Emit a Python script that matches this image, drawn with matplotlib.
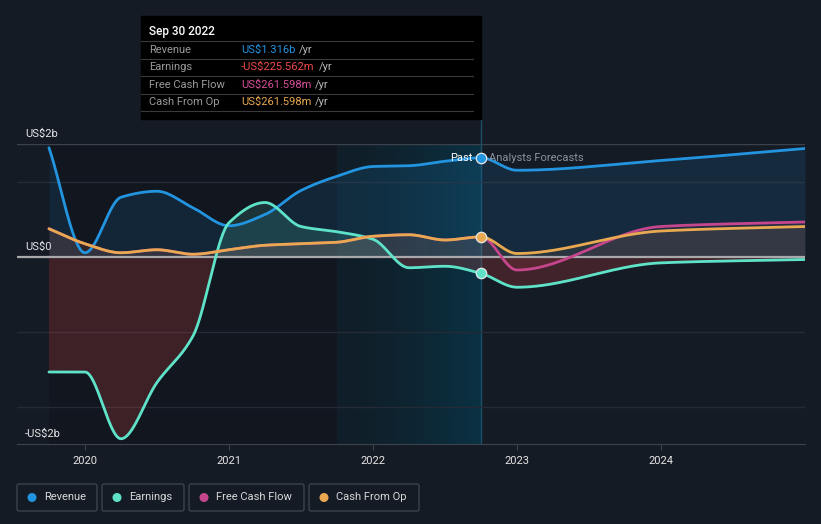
import numpy as np
import matplotlib
matplotlib.use("Agg")
import matplotlib.pyplot as plt
from matplotlib.patches import Rectangle, FancyBboxPatch, Circle
import matplotlib.transforms as mtransforms

plt.rcParams["font.family"] = ["Roboto", "DejaVu Sans"]

# ---- data (US$ billions) ----
past_t = [2019.75, 2020.0, 2020.25, 2020.5, 2020.75, 2021.0, 2021.25,
          2021.5, 2021.75, 2022.0, 2022.25, 2022.5, 2022.75]
fc_t = [2023.0, 2024.0, 2025.0]

revenue_past = [1.45, 0.05, 0.79, 0.87, 0.65, 0.41, 0.56, 0.88, 1.07, 1.20, 1.21, 1.27, 1.316]
revenue_fc = [1.15, 1.28, 1.44]
earnings_past = [-1.54, -1.54, -2.43, -1.68, -1.06, 0.45, 0.72, 0.40, 0.33, 0.23, -0.15, -0.13, -0.2256]
earnings_fc = [-0.41, -0.085, -0.04]
cfo_past = [0.37, 0.17, 0.05, 0.09, 0.03, 0.09, 0.15, 0.17, 0.19, 0.27, 0.29, 0.22, 0.2616]
cfo_fc = [0.04, 0.34, 0.40]
fcf_past = cfo_past
fcf_fc = [-0.18, 0.40, 0.46]

year_ticks = [2020, 2021, 2022, 2023, 2024]
tip_rows = [("Revenue", "US$1.316b"), ("Earnings", "-US$225.562m"),
            ("Free Cash Flow", "US$261.598m"), ("Cash From Op", "US$261.598m")]

BG = "#151b25"
C_REV = "#2394df"
C_EAR = "#5ee3c9"
C_FCF = "#c6468d"
C_CFO = "#e8a951"
C_RED = "#e04444"


def pchip(x, y, xs):
    x = np.asarray(x, float)
    y = np.asarray(y, float)
    h = np.diff(x)
    d = np.diff(y) / h
    n = len(x)
    m = np.zeros(n)
    m[0], m[-1] = d[0], d[-1]
    for k in range(1, n - 1):
        if d[k - 1] * d[k] > 0:
            w1 = 2 * h[k] + h[k - 1]
            w2 = h[k] + 2 * h[k - 1]
            m[k] = (w1 + w2) / (w1 / d[k - 1] + w2 / d[k])
    idx = np.clip(np.searchsorted(x, xs) - 1, 0, n - 2)
    t = (xs - x[idx]) / h[idx]
    h00 = 2 * t**3 - 3 * t**2 + 1
    h10 = t**3 - 2 * t**2 + t
    h01 = -2 * t**3 + 3 * t**2
    h11 = t**3 - t**2
    return h00 * y[idx] + h10 * h[idx] * m[idx] + h01 * y[idx + 1] + h11 * h[idx] * m[idx + 1]


t_all = past_t + fc_t
xs = np.linspace(t_all[0], t_all[-1], 1200)
rev = pchip(t_all, revenue_past + revenue_fc, xs)
ear = pchip(t_all, earnings_past + earnings_fc, xs)
fcf = pchip(t_all, fcf_past + fcf_fc, xs)
cfo = pchip(t_all, cfo_past + cfo_fc, xs)

W, H = 821, 524
fig = plt.figure(figsize=(W / 100, H / 100), dpi=100, facecolor=BG)
ax = fig.add_axes([17 / W, 1 - 444 / H, 788 / W, 300 / H], facecolor=BG)
x0, x1 = 2019.528, 2025.0
ax.set_xlim(x0, x1)
ax.set_ylim(-2.5, 1.5)

# past shading
ax.axvspan(past_t[0], 2021.75, color="#0a0e15", alpha=0.35, lw=0, zorder=0)
grad = np.zeros((2, 100, 4))
c_left = np.array([16, 30, 40]) / 255
c_right = np.array([10, 50, 68]) / 255
for i in range(100):
    f = (i / 99) ** 1.5
    grad[:, i, :3] = c_left * (1 - f) + c_right * f
    grad[:, i, 3] = 1
ax.imshow(grad, extent=[2021.75, 2022.75, -2.5, 1.5], aspect="auto", zorder=0.5,
          interpolation="bilinear")
ax.axvline(2022.75, color="#1b4f68", lw=1, zorder=1)

# grid
for v in [1, -1, -2]:
    ax.axhline(v, color="#252b36", lw=1, zorder=1)
ax.axhline(1.5, color="#3c424c", lw=1, zorder=1)

# fills
ax.fill_between(xs, rev, 0, color=C_REV, alpha=0.13, lw=0, zorder=2)
ax.fill_between(xs, ear, 0, where=ear >= 0, interpolate=True, color=C_EAR, alpha=0.15, lw=0, zorder=2)
ax.fill_between(xs, ear, 0, where=ear < 0, interpolate=True, color=C_RED, alpha=0.22, lw=0, zorder=2)
ax.fill_between(xs, fcf, 0, where=fcf >= 0, interpolate=True, color=C_FCF, alpha=0.08, lw=0, zorder=2)
ax.fill_between(xs, fcf, 0, where=fcf < 0, interpolate=True, color=C_RED, alpha=0.12, lw=0, zorder=2)
ax.fill_between(xs, cfo, 0, where=cfo >= 0, interpolate=True, color=C_CFO, alpha=0.09, lw=0, zorder=2)

ax.axhline(0, color="#a9a9ab", lw=1.6, zorder=3)

# lines
ax.plot(xs, rev, color=C_REV, lw=2, zorder=4, solid_capstyle="round")
ax.plot(xs, ear, color=C_EAR, lw=2, zorder=4, solid_capstyle="round")
ax.plot(xs, fcf, color=C_FCF, lw=2, zorder=4, solid_capstyle="round")
ax.plot(xs, cfo, color=C_CFO, lw=2, zorder=5, solid_capstyle="round")

# markers at the past/forecast boundary
for val, col in [(revenue_past[-1], C_REV), (earnings_past[-1], C_EAR), (cfo_past[-1], C_CFO)]:
    ax.plot(past_t[-1], val, "o", ms=7.5, mfc=col, mec="#e8e8e8", mew=0.9, zorder=6)

ax.text(past_t[-1] - 0.062, revenue_past[-1], "Past", color="white", fontsize=8,
        ha="right", va="center", zorder=7)
ax.text(past_t[-1] + 0.055, revenue_past[-1], "Analysts Forecasts", color="#8b929c",
        fontsize=8, ha="left", va="center", zorder=7)

# y labels
lbl_tr = mtransforms.offset_copy(ax.get_yaxis_transform(), fig=fig, x=8, y=5, units="dots")
for val, s in [(1.5, "US$2b"), (0, "US$0"), (-2.5, "-US$2b")]:
    ax.text(0, val, s, transform=lbl_tr, color="#e6e6e6", fontsize=8, ha="left", va="bottom", zorder=7)

# axes styling
for s in ["top", "right", "left"]:
    ax.spines[s].set_visible(False)
ax.spines["bottom"].set_color("#3d434d")
ax.set_yticks([])
ax.set_xticks(year_ticks)
ax.set_xticklabels([str(y) for y in year_ticks])
ax.tick_params(axis="x", colors="#3d434d", labelcolor="#e6e6e6", labelsize=8, length=4, pad=5)

# overlay in pixel coordinates
ov = fig.add_axes([0, 0, 1, 1], zorder=10)
ov.set_xlim(0, W)
ov.set_ylim(H, 0)
ov.axis("off")
ov.patch.set_alpha(0)

# tooltip
ov.add_patch(Rectangle((141, 16), 340, 103, color="#000000", zorder=1))
ov.text(149, 31, "Sep 30 2022", color="white", fontsize=8.5, fontweight="medium", va="center", zorder=2)
val_cols = [C_REV, "#f04a4a", "#d7509a", C_CFO]
seps = [41, 58.5, 76, 93.5, 111]
for y in seps:
    ov.plot([141, 473], [y, y], color="#3a3a3a", lw=0.8, zorder=2)
for i, (name, val) in enumerate(tip_rows):
    yc = (seps[i] + seps[i + 1]) / 2
    ov.text(149, yc, name, color="#9a9a9a", fontsize=8, va="center", zorder=2)
    t = ov.text(241, yc, val, color=val_cols[i], fontsize=8, va="center", zorder=2)
    fig.canvas.draw()
    bb = t.get_window_extent()
    ov.text(bb.x1 + 4, yc, "/yr", color="#b8b8b8", fontsize=8, va="center", zorder=2)
ov.plot([481, 481], [119, 144], color="#1b4f68", lw=1, zorder=0)

# legend
leg = [("Revenue", C_REV, 17, 97), ("Earnings", C_EAR, 102, 184),
       ("Free Cash Flow", C_FCF, 189, 304), ("Cash From Op", C_CFO, 309, 419)]
for name, col, lx, rx in leg:
    ov.add_patch(FancyBboxPatch((lx, 484), rx - lx, 27, boxstyle="round,pad=0,rounding_size=2",
                                fc="none", ec="#3d434d", lw=1))
    ov.add_patch(Circle((lx + 15, 497.5), 3.8, color=col))
    ov.text(lx + 27, 497.5, name, color="#d8d8d8", fontsize=8, va="center")

fig.savefig("out.png", dpi=100, facecolor=BG)
